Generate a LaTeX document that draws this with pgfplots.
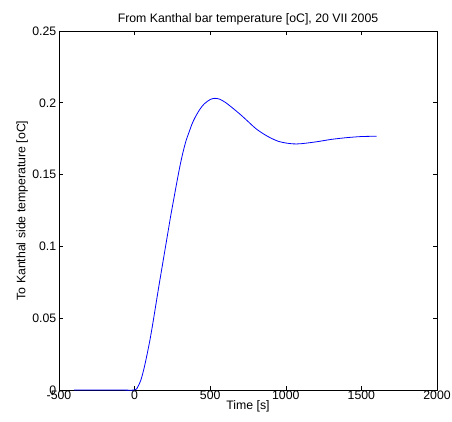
\documentclass[border=0pt]{standalone}
\usepackage{fontspec}
\setmainfont{Liberation Sans}
\usepackage{pgfplots}
\pgfplotsset{compat=1.18}
\begin{document}
\fontsize{12.3pt}{14pt}\selectfont
\begin{tikzpicture}[x=1pt,y=1pt]
\begin{axis}[
  at={(59pt,32pt)}, anchor=south west,
  scale only axis, width=378pt, height=359pt,
  xmin=-500, xmax=2000, ymin=0, ymax=0.25,
  xtick={-500,0,500,1000,1500,2000},
  xticklabels={-500,0,500,1000,1500,2000},
  ytick={0,0.05,0.1,0.15,0.2,0.25},
  yticklabels={0,0.05,0.1,0.15,0.2,0.25},
  tick align=inside, major tick length=4pt,
  tick style={black, line width=0.6pt},
  axis line style={black, line width=0.9pt},
  every tick label/.append style={font=\fontsize{12.3pt}{14pt}\selectfont},
  xticklabel style={yshift=3pt},
  yticklabel style={xshift=1.5pt},
  title={From Kanthal bar temperature [oC], 20 VII 2005},
  title style={font=\fontsize{12.3pt}{14pt}\selectfont, yshift=-4pt},
  xlabel={Time [s]},
  xlabel style={font=\fontsize{12.3pt}{14pt}\selectfont, yshift=8pt},
  ylabel={To Kanthal side temperature [oC]},
  ylabel style={font=\fontsize{12.3pt}{14pt}\selectfont, yshift=-4pt},
  clip=false,
]
\addplot[color={rgb,255:red,0;green,0;blue,255}, line width=0.8pt, smooth] coordinates {
(-400,0) (-300,0) (-200,0) (-100,0) (0,0)
(20,0.002) (40,0.0065) (60,0.014) (80,0.0235) (100,0.034) (120,0.046)
(140,0.059) (160,0.072) (180,0.0845) (200,0.097) (220,0.1095) (240,0.122)
(260,0.1335) (280,0.145) (300,0.156) (320,0.1655) (340,0.1735) (360,0.1795)
(380,0.1853) (400,0.1898) (430,0.1952) (460,0.1992) (500,0.2023) (530,0.2031)
(560,0.2026) (600,0.2003)
(650,0.1962) (700,0.1918) (750,0.1870) (800,0.1822) (850,0.1785) (900,0.1755)
(950,0.1732) (1000,0.1720) (1050,0.1714) (1100,0.1715) (1200,0.1728)
(1300,0.1745) (1400,0.1757) (1500,0.1765) (1600,0.1767)
};
\end{axis}
\pgfresetboundingbox
\path (0,0) rectangle (452,422);
\end{tikzpicture}
\end{document}
